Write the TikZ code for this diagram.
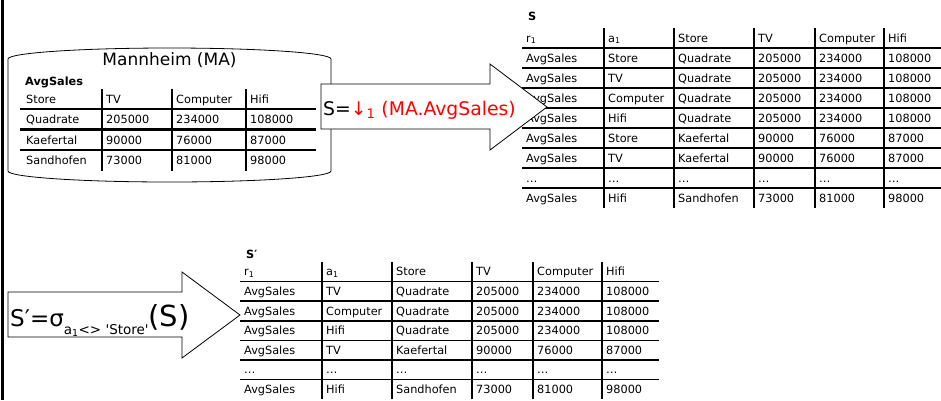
\documentclass[tikz,border=0pt]{standalone}
\usepackage{fontspec}
\setmainfont{DejaVu Sans}
\newcommand{\tabfont}{\fontsize{11.3}{13}\selectfont}
\newcommand{\opfont}{\fontsize{18.8}{22}\selectfont}
\tikzset{
  cell/.style={anchor=base west,inner sep=0pt,font=\tabfont},
  hrule/.style={line width=1.6pt},
  vrule/.style={line width=2.2pt},
  blockarrow/.style={draw,fill=white,line width=0.8pt},
}

\begin{document}
\begin{tikzpicture}[x=1pt,y=-1pt]
%%%%% START %%%%%
\useasboundingbox (0,0) rectangle (941,400);

\draw[line width=3pt] (2,0) -- (2,400);

% database Mannheim
\draw[line width=0.8pt,fill=white] (8,59) arc[start angle=180,end angle=360,x radius=161.5,y radius=11] -- (331,171) arc[start angle=0,end angle=180,x radius=161.5,y radius=11] -- cycle;
\node[font=\fontsize{17}{19}\selectfont,inner sep=1pt] (ma) at (169.5,60) {Mannheim (MA)};
\node[cell,font=\tabfont\bfseries] (matitle) at (25,85) {AvgSales};

\foreach \y in {109,129.5,150} \draw[line width=2.4pt] (20,\y) -- (316,\y);
\foreach \x in {102,172,246} \draw[vrule] (\x,88.5) -- (\x,170.5);
\foreach \st/\tv/\co/\hi [count=\i from 0] in {Store/TV/Computer/Hifi,
    Quadrate/205000/234000/108000, Kaefertal/90000/76000/87000,
    Sandhofen/73000/81000/98000}{
  \pgfmathsetmacro\y{103+20.5*\i}
  \node[cell] (m-\i-1) at (26,\y) {\st};
  \node[cell] (m-\i-2) at (106,\y) {\tv};
  \node[cell] (m-\i-3) at (176,\y) {\co};
  \node[cell] (m-\i-4) at (250,\y) {\hi};
}

% table S
\node[cell,font=\tabfont\bfseries] (stitle) at (528,20) {S};
\foreach \y in {48,68,...,188} \draw[hrule] (522,\y) -- (941,\y);
\foreach \x in {604,674,754,815,884} \draw[vrule] (\x,28) -- (\x,208);
\foreach \ra/\aa/\st/\tv/\co/\hi [count=\i from 0] in {r\textsubscript{1}/a\textsubscript{1}/Store/TV/Computer/Hifi,
    AvgSales/Store/Quadrate/205000/234000/108000, AvgSales/TV/Quadrate/205000/234000/108000,
    AvgSales/Computer/Quadrate/205000/234000/108000, AvgSales/Hifi/Quadrate/205000/234000/108000,
    AvgSales/Store/Kaefertal/90000/76000/87000, AvgSales/TV/Kaefertal/90000/76000/87000,
    \ldots/\ldots/\ldots/\ldots/\ldots/\ldots, AvgSales/Hifi/Sandhofen/73000/81000/98000}{
  \pgfmathsetmacro\y{42+20*\i}
  \node[cell] (s-\i-1) at (526,\y) {\ra};
  \node[cell] (s-\i-2) at (608,\y) {\aa};
  \node[cell] (s-\i-3) at (678,\y) {\st};
  \node[cell] (s-\i-4) at (758,\y) {\tv};
  \node[cell] (s-\i-5) at (819,\y) {\co};
  \node[cell] (s-\i-6) at (888,\y) {\hi};
}

% table S'
\node[cell,font=\tabfont\bfseries] (sptitle) at (246,258) {S′};
\foreach \k in {1,...,6} \draw[hrule] (240,262+19.6*\k) -- (659,262+19.6*\k);
\foreach \x in {322,392,472,533,602} \draw[vrule] (\x,262) -- (\x,399.2);
\foreach \ra/\aa/\st/\tv/\co/\hi [count=\i from 0] in {r\textsubscript{1}/a\textsubscript{1}/Store/TV/Computer/Hifi,
    AvgSales/TV/Quadrate/205000/234000/108000, AvgSales/Computer/Quadrate/205000/234000/108000,
    AvgSales/Hifi/Quadrate/205000/234000/108000, AvgSales/TV/Kaefertal/90000/76000/87000,
    \ldots/\ldots/\ldots/\ldots/\ldots/\ldots, AvgSales/Hifi/Sandhofen/73000/81000/98000}{
  \pgfmathsetmacro\y{275.8+19.6*\i}
  \node[cell] (p-\i-1) at (244,\y) {\ra};
  \node[cell] (p-\i-2) at (326,\y) {\aa};
  \node[cell] (p-\i-3) at (396,\y) {\st};
  \node[cell] (p-\i-4) at (476,\y) {\tv};
  \node[cell] (p-\i-5) at (537,\y) {\co};
  \node[cell] (p-\i-6) at (606,\y) {\hi};
}

% operator arrows
\draw[blockarrow] (321,84) -- (490,84) -- (490,64) -- (547,107) -- (490,150) -- (490,129) -- (321,129) -- cycle;
\node[anchor=base west,inner sep=0pt,font=\opfont] (unpivot) at (323,115)
  {S=\textcolor{red}{↓\textsubscript{1} (MA.AvgSales)}};

\draw[blockarrow] (8,292) -- (182,292) -- (182,272) -- (240,315) -- (182,358) -- (182,337) -- (8,337) -- cycle;
\node[anchor=base west,inner sep=0pt] (select) at (10,326)
  {\fontsize{23}{25}\selectfont S′=σ\raisebox{-8pt}{\fontsize{13.5}{15}\selectfont a\textsubscript{1}<>~\textquotesingle Store\textquotesingle}\fontsize{29}{31}\selectfont(S)};

%%%%% END %%%%%
\end{tikzpicture}
\end{document}
